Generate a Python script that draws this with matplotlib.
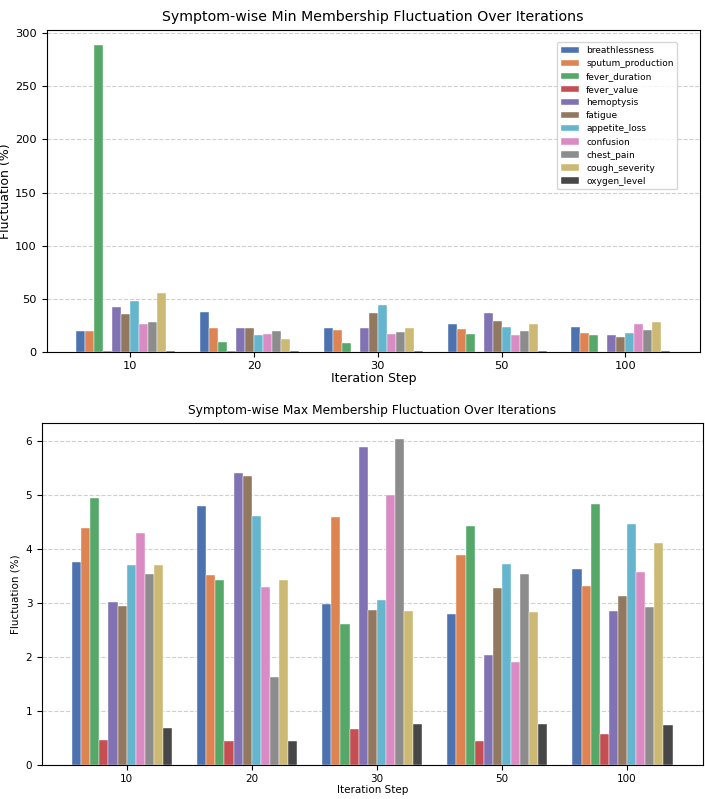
import numpy as np
import matplotlib.pyplot as plt

# iteration steps and symptom names
steps = ['10', '20', '30', '50', '100']
symptoms = ['breathlessness', 'sputum_production', 'fever_duration', 'fever_value',
            'hemoptysis', 'fatigue', 'appetite_loss', 'confusion', 'chest_pain',
            'cough_severity', 'oxygen_level']
colors = ['#4C72B0', '#DD8452', '#55A868', '#C44E52', '#8172B3', '#937860',
          '#64B5CD', '#DA8BC3', '#8C8C8C', '#CCB974', '#474747']

# min membership fluctuation (%) per symptom, one value per step
min_breathlessness = [20.1, 38.0, 22.6, 26.8, 23.6]
min_sputum_production = [20.0, 22.3, 20.4, 22.0, 17.8]
min_fever_duration = [289.0, 9.7, 8.6, 16.9, 15.9]
min_fever_value = [0.8, 0.6, 0.5, 0.5, 0.5]
min_hemoptysis = [42.5, 22.3, 22.6, 36.3, 15.9]
min_fatigue = [35.8, 22.3, 36.3, 29.0, 13.7]
min_appetite_loss = [47.8, 15.7, 44.0, 23.6, 17.8]
min_confusion = [26.7, 16.7, 16.9, 15.9, 26.1]
min_chest_pain = [28.3, 19.5, 19.1, 19.7, 20.4]
min_cough_severity = [55.3, 12.0, 22.6, 26.1, 28.3]
min_oxygen_level = [1.0, 0.8, 0.6, 0.6, 0.6]

# max membership fluctuation (%)
max_breathlessness = [3.76, 4.79, 2.97, 2.80, 3.62]
max_sputum_production = [4.38, 3.52, 4.58, 3.88, 3.31]
max_fever_duration = [4.94, 3.42, 2.61, 4.43, 4.83]
max_fever_value = [0.46, 0.445, 0.67, 0.45, 0.57]
max_hemoptysis = [3.01, 5.41, 5.88, 2.03, 2.85]
max_fatigue = [2.95, 5.35, 2.86, 3.27, 3.13]
max_appetite_loss = [3.70, 4.60, 3.05, 3.72, 4.46]
max_confusion = [4.30, 3.29, 4.99, 1.90, 3.57]
max_chest_pain = [3.53, 1.62, 6.03, 3.54, 2.93]
max_cough_severity = [3.70, 3.43, 2.84, 2.83, 4.10]
max_oxygen_level = [0.69, 0.445, 0.76, 0.76, 0.74]

min_data = [min_breathlessness, min_sputum_production, min_fever_duration, min_fever_value,
            min_hemoptysis, min_fatigue, min_appetite_loss, min_confusion, min_chest_pain,
            min_cough_severity, min_oxygen_level]
max_data = [max_breathlessness, max_sputum_production, max_fever_duration, max_fever_value,
            max_hemoptysis, max_fatigue, max_appetite_loss, max_confusion, max_chest_pain,
            max_cough_severity, max_oxygen_level]

fig = plt.figure(figsize=(7.05, 7.99), dpi=100)
ax1 = fig.add_axes([0.066, 0.5594, 0.927, 0.4036])
ax2 = fig.add_axes([0.0596, 0.0426, 0.937, 0.4283])

x = np.arange(len(steps))
n = len(symptoms)
width = 0.8 / n


def draw(ax, data, title, fs_title, fs_lab, fs_tick, ypad, legend=False):
    for i, (name, vals) in enumerate(zip(symptoms, data)):
        ax.bar(x + (i - n / 2) * width, vals, width, label=name, color=colors[i],
               edgecolor='white', linewidth=0.3)
    ax.set_xticks(x)
    ax.set_xticklabels(steps)
    ax.set_title(title, fontsize=fs_title)
    ax.set_xlabel('Iteration Step', fontsize=fs_lab, labelpad=1)
    ax.set_ylabel('Fluctuation (%)', fontsize=fs_lab, labelpad=ypad)
    ax.tick_params(labelsize=fs_tick)
    ax.tick_params(axis='x', pad=3)
    ax.grid(axis='y', linestyle='--', alpha=0.6)
    ax.set_axisbelow(True)
    if legend:
        ax.legend(fontsize=6.5, loc='upper right', bbox_to_anchor=(0.965, 0.96),
                  borderaxespad=0, handlelength=2.0, labelspacing=0.45)


draw(ax1, min_data, 'Symptom-wise Min Membership Fluctuation Over Iterations', 10.2, 9, 8.2, 2, legend=True)
draw(ax2, max_data, 'Symptom-wise Max Membership Fluctuation Over Iterations', 8.8, 7.5, 7.5, 4)

fig.savefig('out.png', dpi=100)
